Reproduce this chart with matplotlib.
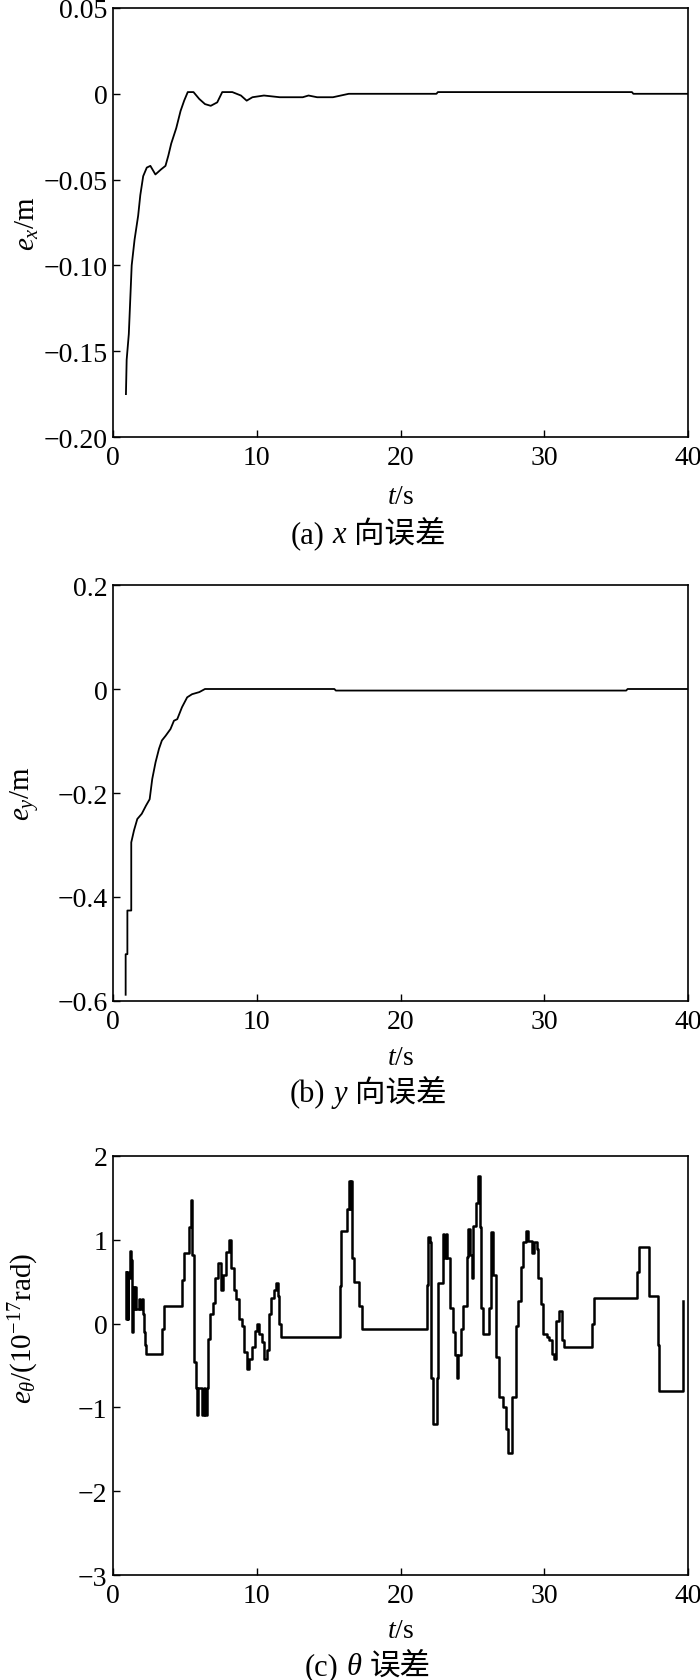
import numpy as np
import matplotlib
matplotlib.use("Agg")
import matplotlib.pyplot as plt

plt.rcParams['font.family'] = ['Liberation Serif', 'Noto Sans CJK SC']
plt.rcParams['mathtext.fontset'] = 'custom'
plt.rcParams['mathtext.rm'] = 'Liberation Serif'
plt.rcParams['mathtext.it'] = 'Liberation Serif:italic'
plt.rcParams['axes.unicode_minus'] = True

# === data ===
t_a = [0.9, 0.95, 1.1, 1.3, 1.5, 1.75, 1.9, 2.1, 2.35, 2.6, 2.95, 3.35, 3.65, 3.85,
       4.05, 4.4, 4.7, 4.95, 5.2, 5.6, 6.0, 6.4, 6.8, 7.25, 7.6, 8.3, 8.9, 9.3, 9.7,
       10.5, 11.6, 13.2, 13.6, 14.2, 15.3, 16.4, 22.5, 22.6, 36.1, 36.2, 40]
e_x = [-0.175, -0.155, -0.14, -0.10, -0.085, -0.071, -0.059, -0.048, -0.043, -0.042,
       -0.047, -0.044, -0.042, -0.036, -0.029, -0.020, -0.010, -0.004, 0.001, 0.001,
       -0.003, -0.006, -0.007, -0.005, 0.001, 0.001, -0.001, -0.004, -0.002, -0.001,
       -0.002, -0.002, -0.001, -0.002, -0.002, 0.0, 0.0, 0.001, 0.001, 0.0, 0.0]

t_b = [0.88, 0.88, 1.0, 1.0, 1.27, 1.27, 1.46, 1.69, 2.0, 2.3, 2.55, 2.73, 2.96, 3.2,
       3.4, 3.66, 4.0, 4.24, 4.47, 4.8, 5.16, 5.5, 6.0, 6.4, 15.4, 15.5, 35.7, 35.8, 40]
e_y = [-0.588, -0.51, -0.51, -0.426, -0.426, -0.295, -0.272, -0.25, -0.24, -0.224,
       -0.212, -0.173, -0.141, -0.115, -0.099, -0.09, -0.077, -0.061, -0.058, -0.035,
       -0.016, -0.010, -0.006, 0.0, 0.0, -0.003, -0.003, 0.0, 0.0]

t_c = [0.88, 0.93, 0.97, 1.02, 1.06, 1.16, 1.25, 1.32, 1.37, 1.44, 1.5, 1.57, 1.8, 1.9,
       2.0, 2.06, 2.13, 2.22, 2.31, 3.38, 3.52, 4.77, 4.91, 5.32, 5.44, 5.51, 5.65,
       5.74, 5.83, 5.93, 6.2, 6.3, 6.39, 6.55, 6.62, 6.78, 6.94, 7.13, 7.31, 7.48,
       7.64, 7.87, 8.06, 8.19, 8.4, 8.56, 8.75, 8.94, 9.1, 9.31, 9.49, 9.68, 9.86,
       10.02, 10.19, 10.37, 10.51, 10.69, 10.83, 10.97, 11.18, 11.34, 11.48, 11.57,
       11.71, 15.77, 15.86, 16.27, 16.39, 16.5, 16.55, 16.62, 16.78, 17.08, 17.32,
       21.83, 21.9, 22.02, 22.13, 22.25, 22.52, 22.64, 22.94, 23.06, 23.15, 23.26,
       23.45, 23.63, 23.8, 23.91, 24.03, 24.19, 24.38, 24.61, 24.73, 24.84, 24.96,
       25.07, 25.26, 25.4, 25.51, 25.58, 25.77, 26.18, 26.32, 26.46, 26.64, 26.83,
       27.16, 27.32, 27.46, 27.78, 28.01, 28.2, 28.38, 28.54, 28.73, 28.89, 29.12,
       29.31, 29.47, 29.58, 29.77, 29.93, 30.16, 30.33, 30.51, 30.65, 30.79, 31.04,
       31.21, 31.39, 33.29, 33.47, 36.48, 36.58, 37.27, 37.92, 38.01, 39.65]
e_theta = [0.62, 0.05, 0.62, 0.05, 0.55, 0.87, 0.76, -0.10, 0.44, 0.17, 0.44, 0.17,
           0.29, 0.17, 0.29, 0.11, -0.10, -0.25, -0.36, -0.07, 0.21, 0.52, 0.84, 1.15,
           1.47, 0.82, -0.46, -0.77, -1.09, -0.77, -1.09, -0.77, -1.09, -0.77, -0.18,
           0.11, 0.25, 0.54, 0.72, 0.40, 0.58, 0.85, 1.0, 0.66, 0.40, 0.29, 0.05,
           -0.03, -0.34, -0.54, -0.42, -0.28, -0.09, -0.01, -0.13, -0.22, -0.42, -0.32,
           0.11, 0.31, 0.40, 0.48, 0.33, -0.01, -0.16, 0.45, 1.1, 1.37, 1.70, 1.37,
           1.70, 0.78, 0.50, 0.21, -0.07, 0.46, 1.03, 0.97, -0.65, -1.2, -0.65, 0.48,
           1.07, 0.78, 1.07, 0.78, 0.19, -0.10, -0.38, -0.65, -0.38, -0.07, 0.21, 0.80,
           1.13, 0.82, 0.55, 1.17, 1.44, 1.76, 1.15, 0.19, -0.13, 0.19, 1.09, 0.58,
           -0.40, -0.87, -0.99, -1.26, -1.55, -0.87, -0.03, 0.27, 0.68, 0.97, 1.10,
           0.99, 0.84, 0.97, 0.89, 0.54, 0.23, -0.13, -0.16, -0.20, -0.36, -0.42, 0.03,
           0.15, -0.20, -0.28, 0.0, 0.31, 0.62, 0.91, 0.33, -0.26, -0.81, 0.27]

x_ticks = [0, 10, 20, 30, 40]
yt_a = [0.05, 0, -0.05, -0.10, -0.15, -0.20]
yl_a = ["0.05", "0", "\u22120.05", "\u22120.10", "\u22120.15", "\u22120.20"]
yt_b = [0.2, 0, -0.2, -0.4, -0.6]
yl_b = ["0.2", "0", "\u22120.2", "\u22120.4", "\u22120.6"]
yt_c = [2, 1, 0, -1, -2, -3]
yl_c = ["2", "1", "0", "\u22121", "\u22122", "\u22123"]

W, H = 700, 1681
FS = 20
fig = plt.figure(figsize=(W / 100, H / 100), dpi=100)


def make_axes(top, bottom, yticks, ylabels, ylabel, label_y=0.5, xl_off=47):
    ax = fig.add_axes([113 / W, 1 - bottom / H, 575 / W, (bottom - top) / H])
    ax.set_xlim(0, 40)
    ax.set_ylim(yticks[-1], yticks[0])
    ax.set_xticks(x_ticks)
    ax.set_xticklabels([str(v) for v in x_ticks])
    ax.set_yticks(yticks)
    ax.set_yticklabels(ylabels)
    ax.tick_params(direction='in', length=5, width=1, labelsize=FS, pad=4,
                   top=False, right=False)
    ax.tick_params(axis='x', pad=6)
    for s in ax.spines.values():
        s.set_linewidth(1.2)
    ax.set_xlabel(r"$t$/s", fontsize=FS)
    ax.xaxis.set_label_coords(0.5, -xl_off / (bottom - top))
    ax.set_ylabel(ylabel, fontsize=FS + 1)
    ax.yaxis.set_label_coords(-0.125, label_y)
    return ax


def caption(parts, y_px, xc_px):
    r = fig.canvas.get_renderer()
    items = []
    x = 0
    for s, kw in parts:
        if s == " ":
            x += 8
            continue
        t = fig.text(0, 1 - y_px / H, s, va='baseline', ha='left', **kw)
        items.append((t, x))
        x += t.get_window_extent(r).width
    x0 = xc_px - x / 2
    for t, dx in items:
        t.set_x((x0 + dx) / W)


ax1 = make_axes(9, 438, yt_a, yl_a, r"$e_x$/m")
ax1.plot(t_a, e_x, color='black', lw=1.3)

ax2 = make_axes(586, 1002, yt_b, yl_b, r"$e_y$/m", xl_off=44)
ax2.plot(t_b, e_y, color='black', lw=1.3)

ax3 = make_axes(1157, 1576, yt_c, yl_c, r"$e_\theta$/(10$^{-17}$rad)", label_y=0.59,
                xl_off=43)
ax3.step(t_c, e_theta, where='post', color='black', lw=1.8)

serif = {'family': 'Liberation Serif', 'fontsize': 22}
seri = {'family': 'Liberation Serif', 'style': 'italic', 'fontsize': 22}
cjk = {'family': ['Noto Sans CJK SC'], 'fontsize': 22}
caption([("(a)", serif), (" ", None), ("x", seri), (" ", None), ("向误差", cjk)], 543, 368)
caption([("(b)", serif), (" ", None), ("y", seri), (" ", None), ("向误差", cjk)], 1102, 368)
caption([("(c)", serif), (" ", None), ("θ", seri), (" ", None), ("误差", cjk)], 1675, 368)

plt.savefig("out.png", dpi=100)
plt.close()
